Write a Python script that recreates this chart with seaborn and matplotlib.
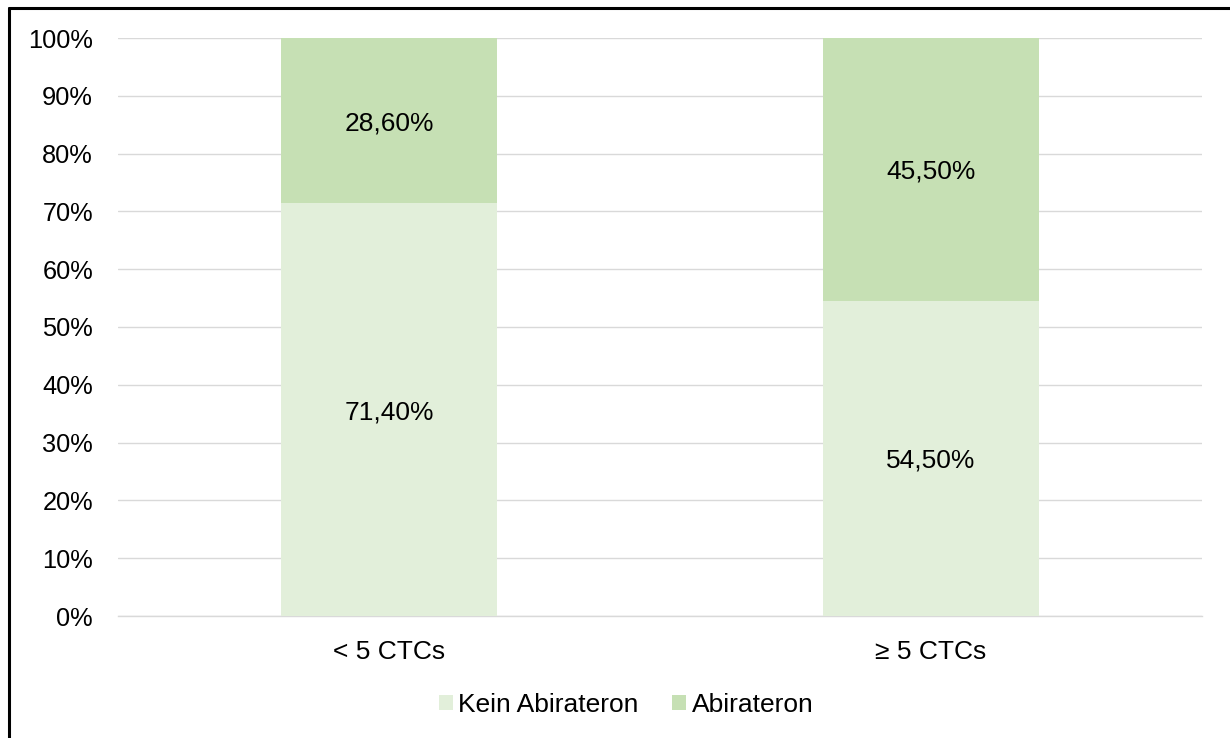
import matplotlib
matplotlib.use("Agg")
import matplotlib.pyplot as plt
from matplotlib.lines import Line2D
from matplotlib.patches import Patch
import pandas as pd
import seaborn as sns

# data
categories = ["< 5 CTCs", "≥ 5 CTCs"]
kein_abirateron = [71.4, 54.5]
abirateron = [28.6, 45.5]
series_names = ["Kein Abirateron", "Abirateron"]
colors = ["#e2efda", "#c6e0b4"]

sns.set_theme(style="white")
plt.rcParams["font.family"] = ["Liberation Sans", "DejaVu Sans"]
plt.rcParams["text.color"] = "black"
fs = 19

df = pd.DataFrame({"cat": categories, "kein": kein_abirateron, "abi": abirateron})
df["total"] = df["kein"] + df["abi"]

fig = plt.figure(figsize=(12.3, 7.38), dpi=100)
ax = fig.add_axes([118 / 1230, 1 - 616 / 738, 1084 / 1230, 578 / 738])

# stacked bars: draw totals first (upper segment), then lower segment on top
sns.barplot(data=df, x="cat", y="total", color=colors[1], width=0.4,
            saturation=1, ax=ax, zorder=2)
sns.barplot(data=df, x="cat", y="kein", color=colors[0], width=0.4,
            saturation=1, ax=ax, zorder=3)
for p in ax.patches:
    p.set_edgecolor("none")

for i, row in df.iterrows():
    ax.text(i, row["kein"] / 2, f"{row['kein']:.2f}%".replace(".", ","),
            ha="center", va="center_baseline", fontsize=fs, color="black", zorder=4)
    ax.text(i, row["kein"] + row["abi"] / 2, f"{row['abi']:.2f}%".replace(".", ","),
            ha="center", va="center_baseline", fontsize=fs, color="black", zorder=4)

ax.set_xlim(-0.5, 1.5)
ax.set_ylim(0, 100)
ax.set_yticks(range(0, 101, 10))
ax.set_yticklabels([f"{v}%" for v in range(0, 101, 10)])
ax.yaxis.grid(True, color="#d9d9d9", linewidth=1)
ax.set_axisbelow(True)
ax.tick_params(axis="y", length=0, pad=18, labelsize=18.3, colors="black")
ax.tick_params(axis="x", length=0, pad=17, labelsize=fs, colors="black")
ax.set_xlabel("")
ax.set_ylabel("")
for side in ["left", "right", "top"]:
    ax.spines[side].set_visible(False)
ax.spines["bottom"].set_color("#d9d9d9")
ax.spines["bottom"].set_linewidth(1)

handles = [Patch(facecolor=c, edgecolor="none") for c in colors]
leg = fig.legend(handles, series_names, loc="center", bbox_to_anchor=(626 / 1230, 1 - 705 / 738),
                 ncol=2, frameon=False, fontsize=fs, handlelength=0.53, handleheight=0.53,
                 handletextpad=0.2, columnspacing=1.3, borderpad=0)
for t in leg.get_texts():
    t.set_color("black")

# outer frame (left and top edges visible in the original)
fig.add_artist(Line2D([9 / 1230, 9 / 1230], [0, 1 - 8 / 738], transform=fig.transFigure,
                      color="black", linewidth=2.2))
fig.add_artist(Line2D([9 / 1230, 1], [1 - 8 / 738, 1 - 8 / 738], transform=fig.transFigure,
                      color="black", linewidth=2.2))

fig.savefig("out.png", dpi=100)
